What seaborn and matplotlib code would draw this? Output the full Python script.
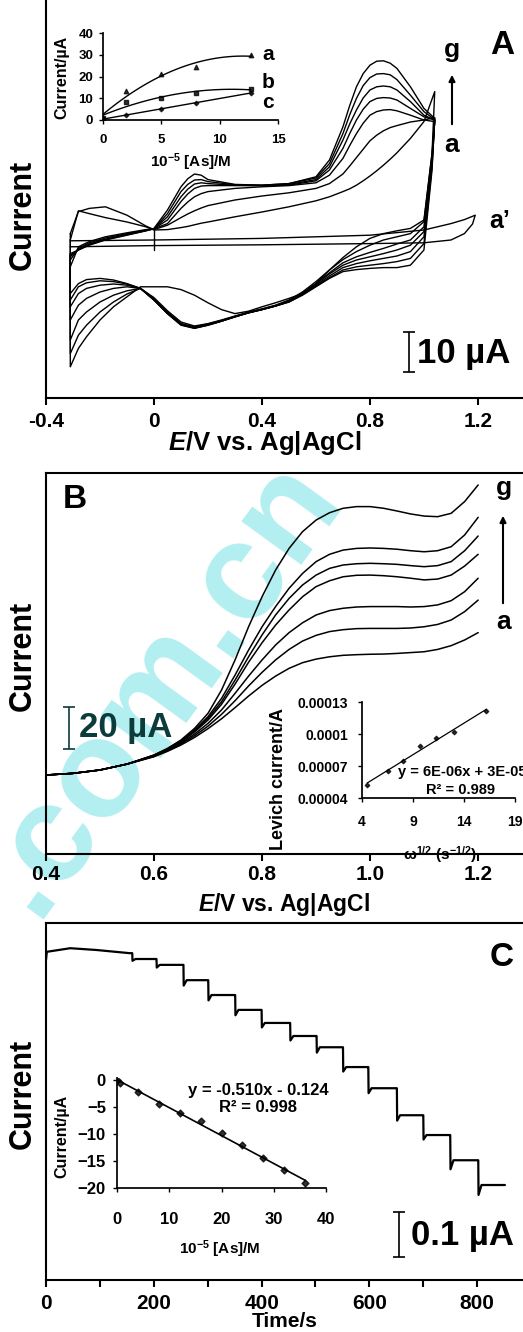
import matplotlib
matplotlib.use("Agg")
import matplotlib.pyplot as plt
from matplotlib.ticker import MultipleLocator
import pandas as pd
import seaborn as sns

sns.set_theme(style="ticks")
plt.rcParams["font.family"] = ["Liberation Sans", "DejaVu Sans"]
plt.rcParams["font.weight"] = "bold"
plt.rcParams["axes.labelweight"] = "bold"
plt.rcParams["axes.edgecolor"] = "black"
plt.rcParams["axes.labelcolor"] = "black"
plt.rcParams["text.color"] = "black"
plt.rcParams["xtick.color"] = "black"
plt.rcParams["ytick.color"] = "black"
plt.rcParams["mathtext.fontset"] = "custom"
plt.rcParams["mathtext.rm"] = "Liberation Sans:bold"
plt.rcParams["mathtext.bf"] = "Liberation Sans:bold"
plt.rcParams["mathtext.it"] = "Liberation Sans:italic:bold"
plt.rcParams["mathtext.default"] = "bf"

# ---------------- panel A: cyclic voltammograms (current in uA, arbitrary zero)
E_fwd = [-0.31, -0.28, -0.24, -0.18, -0.1, -0.03, 0.0, 0.05, 0.1, 0.125, 0.15, 0.175,
         0.2, 0.3, 0.4, 0.5, 0.6, 0.65, 0.7, 0.725, 0.75, 0.775, 0.8, 0.825, 0.85,
         0.875, 0.9, 0.95, 1.0, 1.04]
E_rev = [1.04, 1.03, 1.0, 0.95, 0.9, 0.85, 0.8, 0.75, 0.7, 0.65, 0.6, 0.55, 0.5, 0.45,
         0.4, 0.35, 0.3, 0.25, 0.2, 0.15, 0.1, 0.05, 0.0, -0.05, -0.1, -0.15, -0.2,
         -0.25, -0.28, -0.31]

cv_a_fwd = [11.7, 19.0, 18.3, 17.3, 16.2, 15.0, 14.2, 14.3, 14.8, 15.1, 15.5, 15.9, 16.2,
            17.5, 18.7, 20.0, 21.5, 22.5, 23.8, 24.5, 25.4, 26.5, 27.7, 29.0, 30.4, 31.9,
            33.5, 37.1, 41.3, 48.8]
cv_b_fwd = [13.3, 18.8, 19.6, 20.0, 17.9, 15.2, 14.3, 15.4, 17.3, 18.2, 19.0, 19.7, 20.3,
            21.7, 22.7, 23.5, 24.6, 25.8, 28.2, 30.2, 32.3, 34.4, 36.5, 37.9, 39.0, 39.8,
            40.3, 41.2, 41.7, 42.3]
cv_c_fwd = [5.0, 10.0, 11.3, 12.5, 13.5, 14.3, 14.5, 15.8, 19.6, 21.2, 22.5, 23.3, 23.8,
            24.6, 25.0, 25.3, 26.0, 27.9, 32.1, 35.3, 38.3, 40.9, 42.9, 43.8, 44.2, 44.3,
            44.0, 42.9, 41.7, 41.3]
cv_d_fwd = [6.7, 9.6, 11.0, 12.2, 13.3, 14.2, 14.5, 16.7, 21.3, 23.2, 24.6, 25.2, 25.3,
            25.3, 25.3, 25.4, 26.5, 29.2, 34.6, 38.3, 41.7, 44.4, 46.3, 47.1, 47.3, 47.2,
            46.7, 44.6, 42.5, 41.7]
cv_e_fwd = [7.5, 9.3, 10.7, 11.9, 13.1, 14.1, 14.5, 17.5, 22.5, 24.4, 25.7, 26.0, 25.8,
            25.4, 25.3, 25.6, 26.8, 30.0, 36.7, 40.7, 44.2, 47.2, 49.2, 50.0, 50.2, 50.0,
            49.2, 46.3, 42.9, 41.7]
cv_f_fwd = [7.9, 9.2, 10.5, 11.8, 13.0, 14.0, 14.5, 18.3, 23.8, 25.6, 26.7, 26.8, 26.3,
            25.5, 25.4, 25.8, 27.2, 30.8, 38.3, 43.0, 47.1, 50.3, 52.3, 53.2, 53.3, 53.0,
            51.8, 47.9, 43.8, 41.8]
cv_g_fwd = [8.3, 9.2, 10.4, 11.7, 12.9, 14.0, 14.6, 19.2, 25.0, 27.0, 28.2, 27.9, 26.8,
            25.6, 25.4, 25.8, 27.5, 31.7, 40.0, 45.3, 50.0, 53.3, 55.4, 56.4, 56.5, 55.9,
            54.6, 50.0, 44.6, 42.1]

cv_a_rev = [48.8, 33.3, 16.7, 14.6, 14.0, 13.3, 12.1, 10.0, 7.3, 4.2, 0.8, -1.7, -2.9, -4.0,
            -5.0, -6.1, -6.7, -5.7, -4.0, -2.1, -0.7, 0.0, 0.0, 0.0, -2.5, -5.0, -8.3,
            -12.5, -15.4, -20.0]
cv_b_rev = [42.3, 33.3, 16.3, 13.3, 12.5, 11.7, 10.4, 8.8, 6.8, 4.2, 1.3, -1.3, -3.3, -4.6,
            -5.5, -6.3, -7.3, -8.3, -9.2, -9.8, -8.8, -6.0, -2.7, -0.4, -1.8, -3.8, -6.3,
            -9.6, -12.1, -16.7]
cv_c_rev = [41.3, 32.5, 15.0, 11.7, 10.7, 9.6, 8.6, 7.5, 6.0, 3.5, 0.8, -1.5, -3.5, -4.7,
            -5.6, -6.4, -7.4, -8.4, -9.3, -10.0, -9.2, -6.3, -3.0, -0.4, -1.0, -2.1, -3.8,
            -6.3, -8.3, -13.3]
cv_d_rev = [41.7, 31.7, 13.8, 10.4, 9.2, 8.3, 7.5, 6.7, 5.4, 3.2, 0.7, -1.7, -3.6, -4.8,
            -5.7, -6.5, -7.5, -8.5, -9.4, -10.2, -9.3, -6.5, -3.2, -0.4, 0.0, -0.4, -1.3,
            -2.9, -4.6, -8.3]
cv_e_rev = [41.7, 30.8, 12.5, 8.8, 7.7, 7.1, 6.5, 5.8, 4.8, 2.7, 0.4, -1.8, -3.7, -4.8,
            -5.7, -6.5, -7.5, -8.6, -9.5, -10.3, -9.4, -6.7, -3.3, -0.4, 0.4, 0.7, 0.4,
            -0.4, -1.7, -5.0]
cv_f_rev = [41.8, 30.0, 10.8, 7.1, 6.3, 5.8, 5.4, 5.0, 4.2, 2.3, 0.2, -2.0, -3.8, -4.8,
            -5.7, -6.5, -7.5, -8.6, -9.6, -10.3, -9.5, -6.7, -3.3, -0.4, 0.7, 1.3, 1.5,
            1.0, 0.0, -3.3]
cv_g_rev = [42.1, 29.2, 9.2, 5.4, 4.8, 4.8, 4.6, 4.3, 3.8, 2.1, 0.0, -2.1, -3.8, -4.8,
            -5.7, -6.5, -7.5, -8.6, -9.6, -10.4, -9.6, -6.7, -3.3, -0.4, 0.8, 1.7, 2.1,
            1.8, 0.8, -1.7]

# blank (a')
blank_E_fwd = [-0.31, 0.0, 0.4, 0.8, 1.0, 1.1, 1.15, 1.19]
blank_I_fwd = [11.5, 11.7, 12.1, 12.9, 14.2, 15.8, 16.8, 17.9]
blank_E_rev = [1.19, 1.18, 1.15, 1.1, 1.0, 0.8, 0.4, 0.0, -0.31]
blank_I_rev = [17.9, 15.7, 13.3, 11.7, 11.0, 10.8, 10.5, 10.3, 10.0]
zero_mark_E = [0.0, 0.0]
zero_mark_I = [9.2, 14.2]

# inset A: peak current vs concentration
conc_A = [0, 2, 5, 8, 12.7]
peak_a = [0.8, 13.4, 21.0, 24.2, 30.0]
peak_b = [1.0, 8.2, 10.3, 12.3, 14.2]
peak_c = [0.5, 2.3, 5.0, 8.0, 12.5]

# ---------------- panel B: hydrodynamic voltammograms (uA)
E_B = [0.4, 0.45, 0.5, 0.55, 0.6, 0.625, 0.65, 0.675, 0.7, 0.725, 0.75, 0.775, 0.8,
       0.825, 0.85, 0.875, 0.9, 0.925, 0.95, 0.975, 1.0, 1.025, 1.05, 1.075, 1.1,
       1.125, 1.15, 1.175, 1.2]
lsv_a = [0.0, 0.8, 2.4, 5.2, 8.7, 11.3, 14.3, 17.9, 22.1, 26.8, 32.1, 37.6, 42.7, 47.1,
         50.8, 53.5, 55.2, 56.3, 57.0, 57.3, 57.5, 57.6, 57.9, 58.3, 58.7, 59.8, 61.6,
         64.3, 67.8]
lsv_b = [0.0, 0.8, 2.4, 5.2, 8.9, 11.6, 14.8, 18.7, 23.3, 28.9, 35.4, 42.4, 48.9, 54.8,
         59.8, 63.8, 66.5, 68.3, 69.2, 69.7, 69.8, 69.8, 69.8, 70.0, 70.6, 71.7, 73.8,
         77.8, 83.3]
lsv_c = [0.0, 0.8, 2.4, 5.2, 9.0, 11.9, 15.2, 19.5, 24.6, 31.0, 38.9, 47.1, 54.8, 61.9,
         67.8, 72.5, 76.2, 78.3, 79.4, 80.0, 80.2, 80.2, 80.2, 80.0, 80.2, 81.0, 83.0,
         87.3, 93.7]
lsv_d = [0.0, 0.8, 2.4, 5.2, 9.2, 12.2, 15.7, 20.5, 26.2, 33.7, 43.3, 53.7, 63.0, 71.4,
         78.6, 84.9, 89.7, 92.5, 94.4, 95.1, 95.2, 94.9, 94.4, 93.7, 92.9, 93.3, 95.2,
         99.5, 105.1]
lsv_e = [0.0, 0.8, 2.4, 5.2, 9.4, 12.4, 16.0, 21.0, 27.0, 34.9, 45.2, 56.3, 66.7, 76.2,
         84.1, 90.5, 95.2, 98.4, 100.0, 100.6, 100.8, 100.6, 100.3, 99.7, 99.2, 99.7,
         101.6, 106.8, 113.8]
lsv_f = [0.0, 0.8, 2.4, 5.2, 9.5, 12.5, 16.3, 21.4, 27.8, 36.5, 47.6, 59.5, 70.6, 80.2,
         88.9, 96.0, 101.6, 105.1, 107.1, 107.9, 108.1, 107.9, 107.5, 106.8, 106.3,
         106.8, 108.7, 114.3, 122.7]
lsv_g = [0.0, 0.8, 2.4, 5.2, 9.5, 12.7, 16.7, 22.2, 29.4, 40.5, 54.8, 70.6, 84.9, 97.6,
         107.9, 115.9, 121.4, 124.9, 127.0, 127.8, 127.8, 127.0, 125.7, 124.3, 123.3,
         123.0, 124.6, 130.2, 138.1]

# inset B: Levich plot
omega_sqrt = [4.5, 6.5, 8.0, 9.7, 11.3, 13.0, 16.2]
levich_I = [5.2e-5, 6.5e-5, 7.5e-5, 8.9e-5, 9.6e-5, 1.02e-4, 1.22e-4]
levich_yticks = [4e-5, 7e-5, 1e-4, 1.3e-4]
levich_ylabels = ["0.00004", "0.00007", "0.0001", "0.00013"]

# ---------------- panel C: amperometric trace (uA)
t_start = [0, 1.5, 45, 94, 155]
I_start = [-0.022, -0.004, 0.004, 0.0, -0.007]
step_times = [160, 205, 255, 301, 351, 400, 453, 502, 551, 598, 651, 700, 750, 802]
step_levels = [-0.020, -0.033, -0.067, -0.100, -0.133, -0.162, -0.191, -0.216,
               -0.260, -0.307, -0.367, -0.411, -0.467, -0.522]
step_dips = [0.004, 0.006, 0.012, 0.012, 0.012, 0.010, 0.010, 0.012,
             0.010, 0.011, 0.012, 0.010, 0.020, 0.022]
t_end = 852

# inset C: calibration
conc_C = [0, 0.6, 4, 8, 12, 16, 20, 24, 28, 32, 36]
resp_C = [0, -0.5, -2.2, -4.5, -6.1, -7.6, -9.8, -12.1, -14.5, -16.6, -19.1]

W, H = 523, 1332
fig = plt.figure(figsize=(W / 100, H / 100), dpi=100)
fig.patch.set_facecolor("white")


def fpos(x, y):
    # pixel position (from top-left) -> figure fraction
    return x / W, 1 - y / H


def rect(x0, y0, x1, y1):
    return [x0 / W, 1 - y1 / H, (x1 - x0) / W, (y1 - y0) / H]


# watermark
wx, wy = fpos(160, 686)
fig.text(wx, wy, ".com.cn", rotation=54, fontsize=100, color="#b3eef0",
         fontweight="bold", ha="center", va="center", zorder=-5)

tick_kw = dict(labelsize=15, width=1.5, length=5, direction="out")

# ================= Panel A
axA = fig.add_axes(rect(46, 0, 523, 398))
axA.set_facecolor("none")
rows = []
for name, fwd, rev in [("a", cv_a_fwd, cv_a_rev), ("b", cv_b_fwd, cv_b_rev),
                       ("c", cv_c_fwd, cv_c_rev), ("d", cv_d_fwd, cv_d_rev),
                       ("e", cv_e_fwd, cv_e_rev), ("f", cv_f_fwd, cv_f_rev),
                       ("g", cv_g_fwd, cv_g_rev)]:
    Es = E_fwd + E_rev + [E_fwd[0]]
    Is = fwd + rev + [fwd[0]]
    for e, i in zip(Es, Is):
        rows.append({"curve": name, "E": e, "I": i})
cv_df = pd.DataFrame(rows)
sns.lineplot(data=cv_df, x="E", y="I", units="curve", estimator=None, sort=False,
             color="black", lw=1.0, ax=axA, legend=False)
sns.lineplot(x=blank_E_fwd + blank_E_rev, y=blank_I_fwd + blank_I_rev, sort=False,
             estimator=None, color="black", lw=1.0, ax=axA)
axA.plot(zero_mark_E, zero_mark_I, color="black", lw=1.0)
axA.set_xlim(-0.4, 1.367)
axA.set_ylim(-27.8, 71.7)
axA.set_xticks([-0.4, 0, 0.4, 0.8, 1.2], labels=["-0.4", "0", "0.4", "0.8", "1.2"])
axA.set_yticks([])
axA.tick_params(axis="x", pad=5, **tick_kw)
sns.despine(ax=axA)
for s in ["left", "bottom"]:
    axA.spines[s].set_linewidth(1.5)
axA.set_xlabel(r"$\mathit{E}$/V vs. Ag|AgCl", fontsize=18.5)
axA.xaxis.set_label_coords(0.459, -0.078)
axA.set_ylabel("Current", fontsize=22)
axA.yaxis.set_label_coords(-0.017, 0.46)
axA.errorbar([0.944], [-16.3], yerr=[5.0], color="black", capsize=4, lw=1.2, capthick=1.2)
fig.text(*fpos(417, 353), "10 µA", fontsize=25, ha="left", va="center")
fig.text(*fpos(502, 45), "A", fontsize=24, ha="center", va="center")
fig.text(*fpos(452, 50), "g", fontsize=19, ha="center", va="center")
fig.text(*fpos(452, 145), "a", fontsize=19, ha="center", va="center")
fig.text(*fpos(500, 221), "a’", fontsize=18, ha="center", va="center")
axA.annotate("", xy=fpos(452, 72), xytext=fpos(452, 127), xycoords="figure fraction",
             textcoords="figure fraction",
             arrowprops=dict(arrowstyle="-|>", color="black", lw=1.5, mutation_scale=9))

# inset A
axAi = fig.add_axes(rect(103, 33, 278, 120))
axAi.set_facecolor("none")
sns.regplot(x=conc_A, y=peak_a, order=2, ci=None, marker="^", color="black",
            scatter_kws=dict(s=10), line_kws=dict(lw=1.0), ax=axAi)
sns.regplot(x=conc_A, y=peak_b, order=2, ci=None, marker="s", color="black",
            scatter_kws=dict(s=10), line_kws=dict(lw=1.0), ax=axAi)
sns.regplot(x=conc_A, y=peak_c, order=1, ci=None, marker="D", color="black",
            scatter_kws=dict(s=5), line_kws=dict(lw=1.0), ax=axAi)
axAi.set_xlim(0, 15)
axAi.set_ylim(0, 40)
axAi.set_xticks([0, 5, 10, 15])
axAi.set_yticks([0, 10, 20, 30, 40])
axAi.tick_params(labelsize=9.5, width=1.0, length=3, pad=4)
axAi.tick_params(axis="x", pad=7)
sns.despine(ax=axAi)
axAi.set_xlabel(r"10$^{-5}$ [As]/M", fontsize=11)
axAi.xaxis.set_label_coords(0.5, -0.36)
axAi.set_ylabel("Current/µA", fontsize=11.5)
axAi.yaxis.set_label_coords(-0.19, 0.49)
fig.text(*fpos(268, 54), "a", fontsize=15, ha="center", va="center")
fig.text(*fpos(268, 83), "b", fontsize=15, ha="center", va="center")
fig.text(*fpos(268, 102), "c", fontsize=15, ha="center", va="center")

# ================= Panel B
axB = fig.add_axes(rect(46, 473, 523, 854))
axB.set_facecolor("none")
lsv_df = pd.DataFrame({"E": E_B * 7,
                       "I": lsv_a + lsv_b + lsv_c + lsv_d + lsv_e + lsv_f + lsv_g,
                       "curve": [c for c in "abcdefg" for _ in E_B]})
sns.lineplot(data=lsv_df, x="E", y="I", units="curve", estimator=None, sort=False,
             color="black", lw=1.1, ax=axB, legend=False)
axB.set_xlim(0.4, 1.283)
axB.set_ylim(-37.6, 143.8)
axB.set_xticks([0.4, 0.6, 0.8, 1.0, 1.2], labels=["0.4", "0.6", "0.8", "1.0", "1.2"])
axB.set_yticks([])
axB.tick_params(axis="x", pad=3, **tick_kw)
axB.spines["right"].set_visible(False)
for s in ["left", "bottom", "top"]:
    axB.spines[s].set_linewidth(1.5)
axB.set_xlabel(r"$\mathit{E}$/V vs. Ag|AgCl", fontsize=16.5)
axB.xaxis.set_label_coords(0.5, -0.098)
axB.set_ylabel("Current", fontsize=22)
axB.yaxis.set_label_coords(-0.017, 0.52)
axB.errorbar([0.443], [22.4], yerr=[10.0], color="#0b3b3b", capsize=4, lw=1.2, capthick=1.2)
fig.text(*fpos(79, 728), "20 µA", fontsize=25, ha="left", va="center", color="#0b3b3b")
fig.text(*fpos(75, 500), "B", fontsize=24, ha="center", va="center")
fig.text(*fpos(504, 488), "g", fontsize=19, ha="center", va="center")
fig.text(*fpos(504, 622), "a", fontsize=19, ha="center", va="center")
axB.annotate("", xy=fpos(503, 513), xytext=fpos(503, 606), xycoords="figure fraction",
             textcoords="figure fraction",
             arrowprops=dict(arrowstyle="-|>", color="black", lw=1.5, mutation_scale=9))

# inset B
axBi = fig.add_axes(rect(362, 702, 515, 798))
axBi.set_facecolor("none")
sns.regplot(x=omega_sqrt, y=levich_I, ci=None, marker="D", color="black",
            scatter_kws=dict(s=5), line_kws=dict(lw=0.9), ax=axBi)
axBi.set_xlim(4, 19)
axBi.set_ylim(4e-5, 1.3e-4)
axBi.set_xticks([4, 9, 14, 19])
axBi.set_yticks(levich_yticks, labels=levich_ylabels)
axBi.tick_params(labelsize=10, width=1.0, length=3)
axBi.tick_params(axis="x", pad=9)
axBi.tick_params(axis="y", pad=7)
sns.despine(ax=axBi)
axBi.set_xlabel(r"ω$^{1/2}$ (s$^{-1/2}$)", fontsize=11)
axBi.xaxis.set_label_coords(0.51, -0.48)
axBi.set_ylabel("Levich current/A", fontsize=13)
axBi.yaxis.set_label_coords(-0.49, 0.2)
fig.text(*fpos(398, 772), "y = 6E-06x + 3E-05", fontsize=10.5, ha="left", va="center")
fig.text(*fpos(461, 790), "R² = 0.989", fontsize=10.5, ha="center", va="center")

# ================= Panel C
t_trace = list(t_start)
I_trace = list(I_start)
for k, (ts, lv, dp) in enumerate(zip(step_times, step_levels, step_dips)):
    t_next = step_times[k + 1] if k + 1 < len(step_times) else t_end
    t_trace += [ts, ts + 0.5, ts + 6, t_next - 0.5]
    I_trace += [I_trace[-1], lv - dp, lv, lv]

axC = fig.add_axes(rect(46, 923, 523, 1280))
axC.set_facecolor("none")
sns.lineplot(x=t_trace, y=I_trace, sort=False, estimator=None, color="black", lw=1.6, ax=axC)
axC.set_xlim(0, 885)
axC.set_ylim(-0.733, 0.06)
axC.xaxis.set_major_locator(MultipleLocator(200))
axC.xaxis.set_minor_locator(MultipleLocator(100))
axC.set_yticks([])
axC.tick_params(axis="x", which="both", pad=5, **tick_kw)
axC.spines["right"].set_visible(False)
for s in ["left", "bottom", "top"]:
    axC.spines[s].set_linewidth(1.5)
axC.set_xlabel("Time/s", fontsize=15)
axC.xaxis.set_label_coords(0.5, -0.09)
axC.set_ylabel("Current", fontsize=22)
axC.yaxis.set_label_coords(-0.017, 0.52)
axC.errorbar([655], [-0.633], yerr=[0.05], color="black", capsize=4, lw=1.2, capthick=1.2)
fig.text(*fpos(411, 1236), "0.1 µA", fontsize=25, ha="left", va="center")
fig.text(*fpos(502, 957), "C", fontsize=24, ha="center", va="center")

# inset C
axCi = fig.add_axes(rect(117, 1078, 326, 1188))
axCi.set_facecolor("none")
sns.regplot(x=conc_C, y=resp_C, ci=None, marker="D", color="black",
            scatter_kws=dict(s=12), line_kws=dict(lw=1.2), ax=axCi)
axCi.set_xlim(0, 40)
axCi.set_ylim(-20, 0.35)
axCi.set_xticks([0, 10, 20, 30, 40])
axCi.set_yticks([0, -5, -10, -15, -20])
axCi.tick_params(labelsize=12, width=1.0, length=3)
axCi.tick_params(axis="x", pad=14)
axCi.tick_params(axis="y", pad=5)
sns.despine(ax=axCi)
axCi.set_xlabel(r"10$^{-5}$ [As]/M", fontsize=11)
axCi.xaxis.set_label_coords(0.49, -0.46)
axCi.set_ylabel("Current/µA", fontsize=11.5)
axCi.yaxis.set_label_coords(-0.23, 0.47)
fig.text(*fpos(258, 1090), "y = -0.510x - 0.124", fontsize=12, ha="center", va="center")
fig.text(*fpos(258, 1108), "R² = 0.998", fontsize=12, ha="center", va="center")

fig.savefig("out.png", dpi=100)
